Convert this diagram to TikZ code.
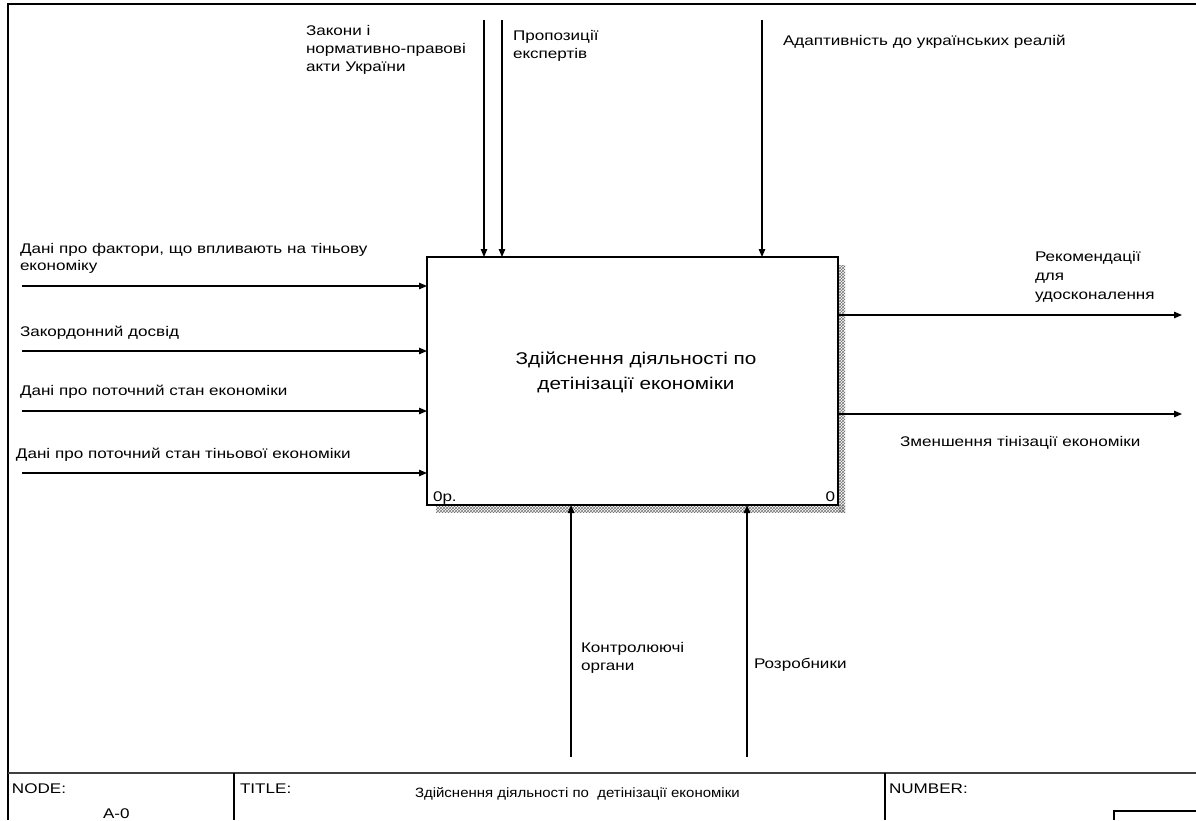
\documentclass[tikz,border=0pt]{standalone}
\usepackage{fontspec}
\setmainfont{Liberation Sans}[FakeStretch=1.22]
\newfontfamily\plainsans{Liberation Sans}[FakeStretch=1.11]
\usetikzlibrary{arrows.meta,patterns}
\begin{document}
\begin{tikzpicture}[x=1pt,y=-1pt,
  lbl/.style={anchor=base west, inner sep=0, outer sep=0, font=\fontsize{14}{16}\selectfont},
  bigtxt/.style={anchor=base, inner sep=0, outer sep=0, font=\fontsize{17}{20}\selectfont},
  arr/.style={line width=1.2pt, -{Triangle[length=8pt,width=6.5pt]}},
  framebox/.style={line width=2.5pt},
  divider/.style={line width=1.5pt},
  shadow/.style={pattern=crosshatch, pattern color=black!55}]
\useasboundingbox (0,0) rectangle (1196,820);
% frame
\draw[framebox] (8,820) -- (8,4) -- (1196,4);
\draw[line width=2pt, black!75] (8,773) -- (1196,773);
\draw[divider] (234,773) -- (234,820);
\draw[divider] (885,773) -- (885,820);
\draw[divider] (1114,820) -- (1114,811) -- (1196,811);
% shadow
\fill[shadow] (838,265) rectangle (845,512);
\fill[shadow] (436,505) rectangle (845,512);
% main box
\node[draw, fill=white, line width=1.4pt, minimum width=411pt, minimum height=248pt, inner sep=0, outer sep=0] (A0) at (632.5,381) {};
\node[bigtxt] (t1) at (636,364) {Здійснення діяльності по};
\node[bigtxt] (t2) at (636,389) {детінізації економіки};
\node[lbl] (n0p) at (433,501) {0р.};
\node[lbl, anchor=base east] (n0) at (835,501) {0};
% inputs
\coordinate (in1) at (22,286);
\coordinate (in2) at (22,351);
\coordinate (in3) at (22,411);
\coordinate (in4) at (22,473);
\draw[arr] (in1) -- (in1 -| A0.west);
\draw[arr] (in2) -- (in2 -| A0.west);
\draw[arr] (in3) -- (in3 -| A0.west);
\draw[arr] (in4) -- (in4 -| A0.west);
\node[lbl] (li1a) at (20,253) {Дані про фактори, що впливають на тіньову};
\node[lbl] (li1b) at (20,270) {економіку};
\node[lbl] (li2) at (20,336) {Закордонний досвід};
\node[lbl] (li3) at (20,395) {Дані про поточний стан економіки};
\node[lbl] (li4) at (16,458) {Дані про поточний стан тіньової економіки};
% controls
\coordinate (c1) at (484,20);
\coordinate (c2) at (502,20);
\coordinate (c3) at (762,20);
\draw[arr] (c1) -- (c1 |- A0.north);
\draw[arr] (c2) -- (c2 |- A0.north);
\draw[arr] (c3) -- (c3 |- A0.north);
\node[lbl] (lc1a) at (306,35) {Закони і};
\node[lbl] (lc1b) at (306,53) {нормативно-правові};
\node[lbl] (lc1c) at (306,71) {акти України};
\node[lbl] (lc2a) at (513,40) {Пропозиції};
\node[lbl] (lc2b) at (513,58) {експертів};
\node[lbl] (lc3) at (783,45) {Адаптивність до українських реалій};
% mechanisms
\coordinate (m1) at (571,757);
\coordinate (m2) at (747,757);
\draw[arr] (m1) -- (m1 |- A0.south);
\draw[arr] (m2) -- (m2 |- A0.south);
\node[lbl] (lm1a) at (581,652) {Контролюючі};
\node[lbl] (lm1b) at (581,670) {органи};
\node[lbl] (lm2) at (754,668) {Розробники};
% outputs
\coordinate (o1) at (1182,315);
\coordinate (o2) at (1182,414);
\draw[arr] (o1 -| A0.east) -- (o1);
\draw[arr] (o2 -| A0.east) -- (o2);
\node[lbl] (lo1a) at (1035,261) {Рекомендації};
\node[lbl] (lo1b) at (1035,280) {для};
\node[lbl] (lo1c) at (1035,299) {удосконалення};
\node[lbl] (lo2) at (900,446) {Зменшення тінізації економіки};
% footer texts
\node[lbl] (fnode) at (12,793) {NODE:};
\node[lbl] (fa0) at (103,818) {A-0};
\node[lbl] (ftitle) at (240,793) {TITLE:};
\node[lbl, font=\plainsans\fontsize{13.5}{16}\selectfont] (ftitletxt) at (415,797) {Здійснення діяльності по\ \ детінізації економіки};
\node[lbl] (fnum) at (889,793) {NUMBER:};
\end{tikzpicture}
\end{document}
